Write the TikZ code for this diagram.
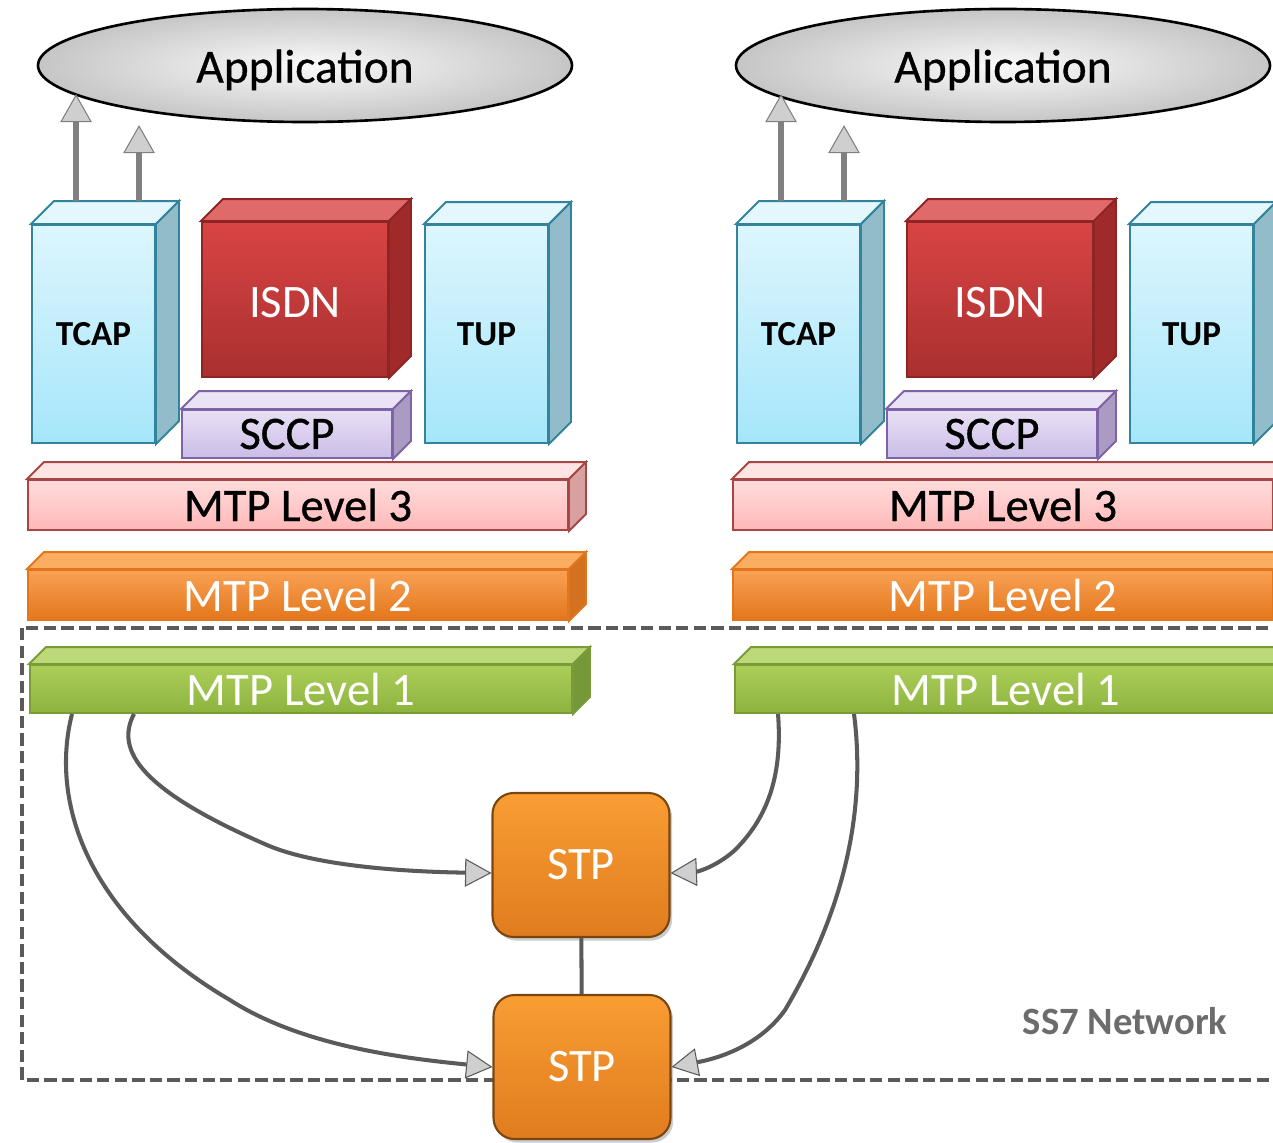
\documentclass[tikz,border=0pt]{standalone}
\usepackage{fontspec}
\setmainfont{Carlito}
\newfontfamily\heavyfont{Carlito}[BoldFont={Carlito}, BoldFeatures={FakeBold=0.7}]
\usetikzlibrary{arrows.meta,shapes.geometric,shadows}

\definecolor{cyantop}{HTML}{DDF6FD}
\definecolor{cyanbot}{HTML}{A6E6FA}
\definecolor{cyanline}{HTML}{31849B}
\definecolor{cyanside}{HTML}{92BCC9}
\definecolor{cyanface}{HTML}{E3F7FD}
\definecolor{isdntop}{HTML}{D94444}
\definecolor{isdnbot}{HTML}{A92F2F}
\definecolor{isdnface}{HTML}{E06A6A}
\definecolor{isdnside}{HTML}{A02A2A}
\definecolor{isdnline}{HTML}{8E2525}
\definecolor{sccptop}{HTML}{E8E0F5}
\definecolor{sccpbot}{HTML}{CBBDE6}
\definecolor{sccpface}{HTML}{EAE3F5}
\definecolor{sccpside}{HTML}{A99BC2}
\definecolor{sccpline}{HTML}{7F63A8}
\definecolor{mtpctop}{HTML}{FFDCDC}
\definecolor{mtpcbot}{HTML}{FFB8B8}
\definecolor{mtpcface}{HTML}{FFE4E4}
\definecolor{mtpcside}{HTML}{D9A0A0}
\definecolor{mtpcline}{HTML}{A84646}
\definecolor{mtpbtop}{HTML}{F9A254}
\definecolor{mtpbbot}{HTML}{E3761C}
\definecolor{mtpbface}{HTML}{FBAE62}
\definecolor{mtpbside}{HTML}{D4711E}
\definecolor{mtpaline}{HTML}{7A9C38}
\definecolor{mtpatop}{HTML}{ABCE58}
\definecolor{mtpabot}{HTML}{8DB33F}
\definecolor{mtpaface}{HTML}{BCD878}
\definecolor{mtpaside}{HTML}{76983A}
\definecolor{stptop}{HTML}{F99D33}
\definecolor{stpbot}{HTML}{E07C1E}
\definecolor{stpline}{HTML}{7A4610}
\definecolor{linkgray}{HTML}{5A5A5A}
\definecolor{headgray}{HTML}{CFCFCF}

\tikzset{dims/.style 2 args={minimum width=#1*0.02cm, minimum height=#2*0.02cm}}

\newcommand{\bigtxt}{\fontsize{26.5}{30}\selectfont}
\newcommand{\cubefaces}[4]{%
  \filldraw[#3] (#1.north west) -- ([shift={(#2,-#2)}]#1.north west) -- ([shift={(#2,-#2)}]#1.north east) -- (#1.north east) -- cycle;
  \filldraw[#4] (#1.north east) -- ([shift={(#2,-#2)}]#1.north east) -- ([shift={(#2,-#2)}]#1.south east) -- (#1.south east) -- cycle;
}

\begin{document}
\begin{tikzpicture}[x=0.02cm, y=-0.02cm,
    front/.style={draw, line width=1.1pt, inner sep=0pt},
    link/.style={draw=linkgray, line width=2.3pt,
      -{Triangle[width=16pt, length=15pt, line width=0.6pt, fill=headgray]}},
    uparrow/.style={draw=gray, line width=3pt,
      -{Triangle[width=18pt, length=16pt, line width=0.6pt, fill=headgray]}},
    stp/.style={draw=stpline, line width=1.2pt, rounded corners=12pt, dims={177}{144},
      top color=stptop, bottom color=stpbot, text=white, font=\bigtxt,
      drop shadow={shadow xshift=1.5pt, shadow yshift=-2pt, opacity=0.4}}
]
\useasboundingbox (0,0) rectangle (1273,1142);
\clip (0,0) rectangle (1273,1142);

\draw[draw=linkgray, line width=2.2pt, dash pattern=on 7pt off 3pt] (22,628) rectangle (1300,1080);

\node[stp] (stp1) at (581,865) {STP};
\node[stp] (stp2) at (582,1067) {STP};
\draw[draw=linkgray, line width=2.3pt] (stp1) -- (stp2);

\node[font=\bfseries\fontsize{22}{26}\selectfont, text=gray!85!black] (ss7) at (1125,1021) {SS7 Network};

\foreach \s/\dx/\ax in {L/0/305, R/705/298}{
\begin{scope}[shift={(\dx,0)}, name prefix=\s-]
  \node[ellipse, draw, line width=1.5pt, inner color=gray!4, outer color=gray!45, dims={534}{113},
    font=\heavyfont\bfseries\fontsize{27}{30}\selectfont] (app) at (\ax,65.5)
    {\raisebox{-2.5pt}[\height][\depth]{Application}};

  \node[front, dims={123}{218}, draw=cyanline, top color=cyantop, bottom color=cyanbot,
    font=\bfseries\fontsize{20}{24}\selectfont] (tcap) at (93.5,334) {TCAP};
  \cubefaces{tcap}{23}{fill=cyanface, draw=cyanline, line width=1.1pt}{fill=cyanside, draw=cyanline, line width=1.1pt}
  \node[front, dims={186}{155}, draw=isdnline, top color=isdntop, bottom color=isdnbot,
    text=white, font=\bigtxt] (isdn) at (295,299.5) {\raisebox{-1.5pt}[\height][\depth]{ISDN}};
  \cubefaces{isdn}{22}{fill=isdnface, draw=isdnline, line width=1.1pt}{fill=isdnside, draw=isdnline, line width=1.1pt}
  \node[front, dims={123}{218}, draw=cyanline, top color=cyantop, bottom color=cyanbot,
    font=\bfseries\fontsize{20}{24}\selectfont] (tup) at (486.5,334) {TUP};
  \cubefaces{tup}{22}{fill=cyanface, draw=cyanline, line width=1.1pt}{fill=cyanside, draw=cyanline, line width=1.1pt}
  \node[front, dims={210}{48}, draw=sccpline, top color=sccptop, bottom color=sccpbot,
    font=\heavyfont\bfseries\bigtxt] (sccp) at (287,434) {SCCP};
  \cubefaces{sccp}{18}{fill=sccpface, draw=sccpline, line width=1.1pt}{fill=sccpside, draw=sccpline, line width=1.1pt}

  \node[front, dims={540}{50}, draw=mtpcline, top color=mtpctop, bottom color=mtpcbot,
    font=\heavyfont\bfseries\bigtxt] (ml3) at (298,505) {MTP Level 3};
  \cubefaces{ml3}{17}{fill=mtpcface, draw=mtpcline, line width=1.1pt}{fill=mtpcside, draw=mtpcline, line width=1.1pt}
  \node[front, dims={540}{50}, draw=mtpbbot, top color=mtpbtop, bottom color=mtpbbot,
    text=white, font=\bigtxt] (ml2) at (298,595) {MTP Level 2};
  \cubefaces{ml2}{17}{fill=mtpbface, draw=mtpbbot, line width=1.1pt}{fill=mtpbside, draw=mtpbbot, line width=1.1pt}
  \node[front, dims={542}{48}, draw=mtpaline, top color=mtpatop, bottom color=mtpabot,
    text=white, font=\bigtxt] (ml1) at (301,689) {MTP Level 1};
  \cubefaces{ml1}{17}{fill=mtpaface, draw=mtpaline, line width=1.1pt}{fill=mtpaside, draw=mtpaline, line width=1.1pt}

  \coordinate (a1) at ([shift={(45,-23)}]tcap.north west);
  \coordinate (a2) at ([shift={(108,-23)}]tcap.north west);
  \draw[uparrow] (a1) -- (a1 |- app.187);
  \draw[uparrow] (a2) -- ([yshift=-1pt]a2 |- app.south);
\end{scope}
}

\coordinate (c1) at ([xshift=0.86cm]L-ml1.south west);
\coordinate (c2) at ([xshift=2.1cm]L-ml1.south west);
\coordinate (c3) at ([xshift=0.88cm]R-ml1.south west);
\coordinate (c4) at ([xshift=2.4cm]R-ml1.south west);
\draw[link] (c1) .. controls (50,800) and (85,915) .. (230,1000) .. controls (300,1045) and (400,1058) .. (stp2.west);
\draw[link] (c2) .. controls (115,750) and (140,790) .. (267,845) .. controls (320,868) and (420,872) .. ([yshift=-0.16cm]stp1.west);
\draw[link] (c3) .. controls (783,780) and (765,820) .. (735,850) .. controls (715,868) and (695,872) .. ([yshift=-0.16cm]stp1.east);
\draw[link] (c4) .. controls (865,800) and (850,900) .. (785,1010) .. controls (760,1045) and (720,1058) .. (stp2.east);
\end{tikzpicture}
\end{document}
